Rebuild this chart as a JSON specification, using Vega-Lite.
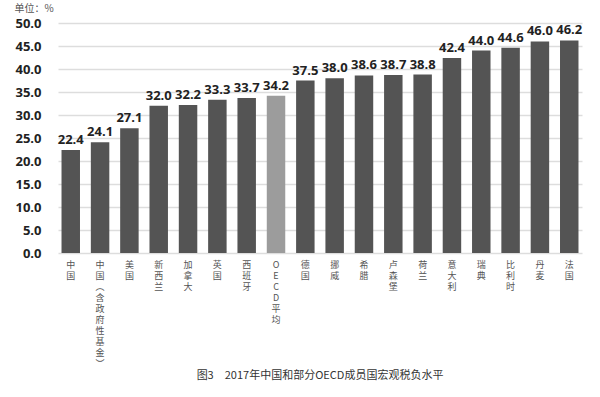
{
  "$schema": "https://vega.github.io/schema/vega-lite/v6.json",
  "autosize": "none",
  "width": 524,
  "height": 230,
  "padding": {"left": 58, "top": 23, "right": 18, "bottom": 144},
  "background": "white",
  "title": {
    "text": "图3　2017年中国和部分OECD成员国宏观税负水平",
    "orient": "bottom",
    "anchor": "middle",
    "offset": 2,
    "font": "Noto Sans CJK SC",
    "fontSize": 11,
    "fontWeight": "normal",
    "color": "#333333"
  },
  "data": {
    "values": [
      {"country": "中国", "value": 22.4},
      {"country": "中国（含政府性基金）", "value": 24.1},
      {"country": "美国", "value": 27.1},
      {"country": "新西兰", "value": 32.0},
      {"country": "加拿大", "value": 32.2},
      {"country": "英国", "value": 33.3},
      {"country": "西班牙", "value": 33.7},
      {"country": "OECD平均", "value": 34.2},
      {"country": "德国", "value": 37.5},
      {"country": "挪威", "value": 38.0},
      {"country": "希腊", "value": 38.6},
      {"country": "卢森堡", "value": 38.7},
      {"country": "荷兰", "value": 38.8},
      {"country": "意大利", "value": 42.4},
      {"country": "瑞典", "value": 44.0},
      {"country": "比利时", "value": 44.6},
      {"country": "丹麦", "value": 46.0},
      {"country": "法国", "value": 46.2}
    ]
  },
  "encoding": {
    "x": {
      "field": "country",
      "type": "nominal",
      "sort": null,
      "scale": {"paddingInner": 0.37, "paddingOuter": 0.12},
      "axis": {
        "title": null,
        "labelAngle": 0,
        "labelExpr": "split(replace(replace(datum.label, '（', '︵'), '）', '︶'), '')",
        "labelBaseline": "top",
        "labelAlign": "center",
        "labelFont": "Noto Sans CJK SC",
        "labelFontSize": 9,
        "labelLineHeight": 11,
        "labelColor": "#555555",
        "labelPadding": 7,
        "ticks": false,
        "domain": false
      }
    },
    "y": {
      "field": "value",
      "type": "quantitative",
      "scale": {"domain": [0, 50]},
      "axis": {
        "title": "单位：%",
        "titleAngle": 0,
        "titleAlign": "left",
        "titleBaseline": "middle",
        "titleX": -44,
        "titleY": -15,
        "titleFont": "Noto Sans CJK SC",
        "titleFontSize": 10,
        "titleFontWeight": "normal",
        "titleColor": "#555555",
        "values": [0, 5, 10, 15, 20, 25, 30, 35, 40, 45, 50],
        "format": ".1f",
        "labelFont": "Open Sans",
        "labelFontSize": 13,
        "labelFontWeight": "bold",
        "labelColor": "#222222",
        "labelPadding": 17,
        "ticks": false,
        "domain": false,
        "grid": true,
        "gridColor": "#dddddd",
        "gridWidth": 1.5
      }
    }
  },
  "layer": [
    {
      "mark": {"type": "bar"},
      "encoding": {
        "color": {
          "condition": {"test": "datum.country === 'OECD平均'", "value": "#9c9c9c"},
          "value": "#545454"
        }
      }
    },
    {
      "mark": {
        "type": "text",
        "baseline": "bottom",
        "dy": -3,
        "font": "Open Sans",
        "fontSize": 13,
        "fontWeight": "bold",
        "color": "#222222"
      },
      "encoding": {
        "text": {"field": "value", "type": "quantitative", "format": ".1f"}
      }
    }
  ],
  "config": {"view": {"stroke": null}}
}
